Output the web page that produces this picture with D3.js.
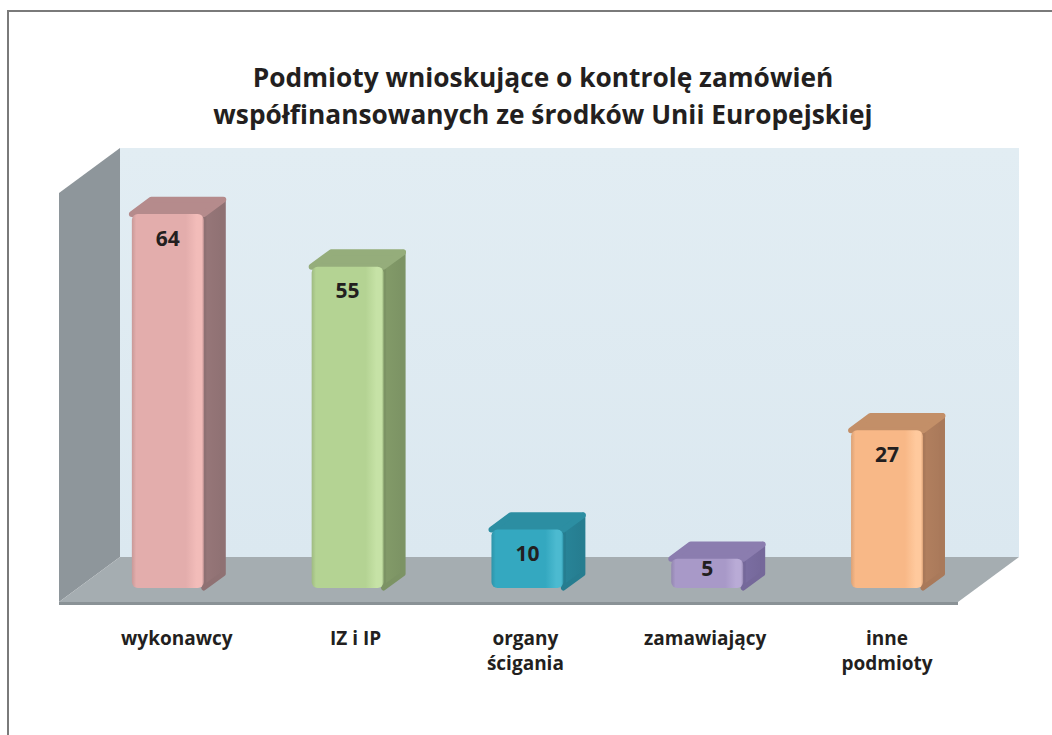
<!DOCTYPE html>
<html><head><meta charset="utf-8">
<script src="https://cdn.jsdelivr.net/npm/d3@7/dist/d3.min.js"></script>
<style>body{margin:0;background:#fff}svg{display:block}</style>
</head><body>
<svg id="c" width="1052" height="735"></svg>
<script>
const categories = [["wykonawcy"], ["IZ i IP"], ["organy", "ścigania"], ["zamawiający"], ["inne", "podmioty"]];
const values = [64, 55, 10, 5, 27];
const titleLines = ["Podmioty wnioskujące o kontrolę zamówień", "współfinansowanych ze środków Unii Europejskiej"];
const palette = [
  {front:"#e3adac", hi:"#f2bcb9", side:"#8f7173", top:"#b58b8c"},
  {front:"#b4d393", hi:"#c6e2a6", side:"#7c9364", top:"#95ad7b"},
  {front:"#34a8c0", hi:"#4cbad0", side:"#267d90", top:"#2c8ea2"},
  {front:"#a899c8", hi:"#b9abd6", side:"#75689a", top:"#8b7daf"},
  {front:"#f8b887", hi:"#ffc99d", side:"#a9795a", top:"#c38f68"}
];

const svg = d3.select("#c");
const font = "'Open Sans', sans-serif";
const ink = "#231f20";

// frame
svg.append("path").attr("d","M8,735 L8,11 L1052,11").attr("fill","none").attr("stroke","#7a7a7a").attr("stroke-width",2);

// title
svg.append("g").selectAll("text").data(titleLines).join("text")
  .attr("x",543).attr("y",(d,i)=>87+i*37).attr("text-anchor","middle")
  .attr("font-family",font).attr("font-weight",700).attr("font-size",26.3)
  .attr("fill",ink).text(d=>d);

// 3D geometry
const X0 = 59, X1 = 958, FLOOR = 602, DX = 61, DY = 45;
const x = d3.scaleBand().domain(d3.range(categories.length)).range([X0, X1]).paddingInner(0.6).paddingOuter(0.3);
const y = d3.scaleLinear().domain([0, 70]).range([FLOOR, FLOOR - 409]);
const P = (px, py, d) => [px + d*DX, py - d*DY];
const poly = pts => "M" + pts.map(p=>p.join(",")).join("L") + "Z";

const defs = svg.append("defs");
const wallG = defs.append("linearGradient").attr("id","wallg").attr("x1",0).attr("x2",0).attr("y1",0).attr("y2",1);
wallG.append("stop").attr("offset",0).attr("stop-color","#e2edf3");
wallG.append("stop").attr("offset",1).attr("stop-color","#dbe8f0");

// back wall
svg.append("path").attr("d", poly([P(X0,y(70),1),P(X1,y(70),1),P(X1,y(0),1),P(X0,y(0),1)])).attr("fill","url(#wallg)");
// left wall
svg.append("path").attr("d", poly([P(X0,y(70),0),P(X0,y(70),1),P(X0,y(0),1),P(X0,y(0),0)])).attr("fill","#8e969b");
// floor
svg.append("path").attr("d", poly([P(X0,y(0),0),P(X0,y(0),1),P(X1,y(0),1),P(X1,y(0),0)])).attr("fill","#a5adb1");
svg.append("path").attr("d", poly([P(X0,y(0),0),P(X1,y(0),0),P(X1,y(0)+3,0),P(X0,y(0)+3,0)])).attr("fill","#8a9296");

// bars
const D1 = 0.31, D2 = 0.63;
const bars = svg.append("g").selectAll("g").data(values).join("g");
bars.each(function(v,i){
  const g = d3.select(this), c = palette[i];
  const xl = x(i), xr = x(i) + x.bandwidth();
  const yt = y(v), yb = y(0);
  const gid = "fg"+i;
  const lg = defs.append("linearGradient").attr("id",gid).attr("x1",0).attr("x2",1).attr("y1",0).attr("y2",0);
  [[0,d3.color(c.front).darker(0.35)],[0.06,c.front],[0.75,c.front],[0.9,c.hi],[0.97,c.hi],[1,d3.color(c.front).darker(0.3)]]
    .forEach(s=>lg.append("stop").attr("offset",s[0]).attr("stop-color",s[1]));
  const sid = "sg"+i;
  const sg = defs.append("linearGradient").attr("id",sid).attr("x1",0).attr("x2",1).attr("y1",0).attr("y2",0);
  sg.append("stop").attr("offset",0).attr("stop-color",d3.color(c.side).brighter(0.15));
  sg.append("stop").attr("offset",1).attr("stop-color",c.side);
  // side
  g.append("path").attr("d", poly([P(xr,yt,D1),P(xr,yt,D2),P(xr,yb,D2),P(xr,yb,D1)]))
    .attr("fill","url(#"+sid+")").attr("stroke",c.side).attr("stroke-width",5).attr("stroke-linejoin","round");
  // top
  g.append("path").attr("d", poly([P(xl,yt,D1),P(xl,yt,D2),P(xr,yt,D2),P(xr,yt,D1)]))
    .attr("fill",c.top).attr("stroke",c.top).attr("stroke-width",6).attr("stroke-linejoin","round");
  // front
  const f0 = P(xl,yt,D1), f1 = P(xr,yb,D1);
  g.append("rect").attr("x",f0[0]).attr("y",f0[1]).attr("width",f1[0]-f0[0]).attr("height",f1[1]-f0[1])
    .attr("rx",6).attr("fill","url(#"+gid+")");
  // value label
  const cx = (f0[0]+f1[0])/2;
  const cy = Math.min(f0[1]+24, (f0[1]+f1[1])/2 - 5);
  g.append("text").attr("x",cx).attr("y",cy).attr("dy","0.36em").attr("text-anchor","middle")
    .attr("font-family",font).attr("font-weight",700).attr("font-size",21).attr("fill",ink).text(v);
});

// category labels
const labelShift = [9, 8, -2, -2, 0];
const labs = svg.append("g").selectAll("text").data(categories).join("text")
  .attr("x",(d,i)=>P(x(i)+x.bandwidth()/2,0,D1)[0] + labelShift[i]).attr("y",645)
  .attr("text-anchor","middle").attr("font-family",font).attr("font-weight",700).attr("font-size",19).attr("fill",ink);
labs.selectAll("tspan").data(d=>d).join("tspan")
  .attr("x",function(){return this.parentNode.getAttribute("x");}).attr("dy",(d,j)=>j?25:0).text(d=>d);
</script>
</body></html>
